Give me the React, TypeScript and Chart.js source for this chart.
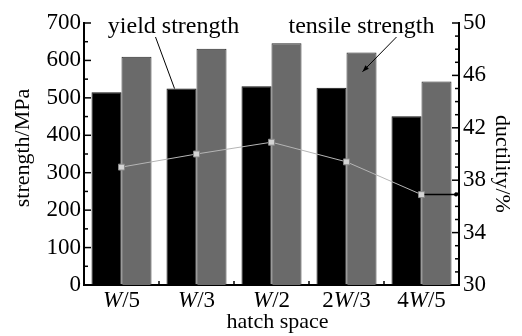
import React, { useEffect, useRef } from "react";
import { Chart, registerables } from "chart.js";

Chart.register(...registerables);

const categories = ["W/5", "W/3", "W/2", "2W/3", "4W/5"];
const yieldStrength = [515, 525, 531, 527, 451];
const tensileStrength = [610, 631, 646, 621, 544];
const ductility = [39.0, 40.0, 40.9, 39.4, 36.9];
const leftTitle = "strength/MPa";
const rightTitle = "ductility/%";
const xTitle = "hatch space";
const yieldLabel = "yield strength";
const tensileLabel = "tensile strength";

const SERIF = "'Liberation Serif'";

const decorPlugin = {
  id: "decor",
  afterDatasetsDraw(chart: any) {
    const { ctx, chartArea } = chart;
    const { left, right, top, bottom } = chartArea;
    const x = chart.scales.x;
    const y = chart.scales.y;
    const y1 = chart.scales.y1;
    ctx.save();
    ctx.strokeStyle = "#000";
    ctx.fillStyle = "#000";
    ctx.lineWidth = 1.5;
    const line = (x1: number, yA: number, x2: number, yB: number) => {
      ctx.beginPath();
      ctx.moveTo(x1, yA);
      ctx.lineTo(x2, yB);
      ctx.stroke();
    };
    // left ticks (inward)
    for (let v = 0; v <= 700; v += 50) {
      const py = y.getPixelForValue(v);
      const len = v % 100 === 0 ? 7 : 4;
      line(left, py, left + len, py);
    }
    // right ticks (inward)
    for (let v = 30; v <= 50; v += 1) {
      const py = y1.getPixelForValue(v);
      const len = (v - 30) % 4 === 0 ? 7 : 4;
      line(right - len, py, right, py);
    }
    // bottom ticks at category boundaries
    for (let i = 1; i < categories.length; i++) {
      const px = (x.getPixelForValue(i - 1) + x.getPixelForValue(i)) / 2;
      line(px, bottom, px, bottom - 4);
    }

    // pointer from last ductility point to right axis
    const lastIdx = ductility.length - 1;
    const lpx = x.getPixelForValue(lastIdx);
    const lpy = y1.getPixelForValue(ductility[lastIdx]);
    ctx.lineWidth = 1.5;
    line(lpx + 3, lpy, right, lpy);
    ctx.beginPath();
    ctx.arc(right - 3, lpy, 2, 0, Math.PI * 2);
    ctx.fill();

    // x category labels with italic W
    const fs = 23;
    categories.forEach((lab, i) => {
      const cx = x.getPixelForValue(i);
      const idx = lab.indexOf("W");
      const parts = [
        { t: lab.slice(0, idx), f: `${fs}px ${SERIF}` },
        { t: "W", f: `italic ${fs}px ${SERIF}` },
        { t: lab.slice(idx + 1), f: `${fs}px ${SERIF}` },
      ];
      let w = 0;
      parts.forEach((p) => {
        ctx.font = p.f;
        w += ctx.measureText(p.t).width;
      });
      let cur = cx - w / 2;
      ctx.textBaseline = "alphabetic";
      ctx.textAlign = "left";
      parts.forEach((p) => {
        ctx.font = p.f;
        ctx.fillText(p.t, cur, bottom + 22);
        cur += ctx.measureText(p.t).width;
      });
    });

    // axis titles
    ctx.font = `22px ${SERIF}`;
    ctx.textAlign = "center";
    ctx.textBaseline = "middle";
    ctx.fillText(xTitle, (left + right) / 2 + 6, bottom + 37);

    ctx.save();
    ctx.translate(23, (top + bottom) / 2 - 6);
    ctx.rotate(-Math.PI / 2);
    ctx.fillText(leftTitle, 0, 0);
    ctx.restore();

    ctx.save();
    ctx.translate(502, (top + bottom) / 2 + 10);
    ctx.rotate(Math.PI / 2);
    ctx.fillText(rightTitle, 0, 0);
    ctx.restore();

    // annotations
    ctx.font = `24px ${SERIF}`;
    ctx.textAlign = "center";
    ctx.textBaseline = "alphabetic";
    const yx = x.getPixelForValue(0) + 52;
    ctx.fillText(yieldLabel, yx, top + 10);
    const tx = x.getPixelForValue(3) + 15;
    ctx.fillText(tensileLabel, tx, top + 10);

    ctx.lineWidth = 1;
    // yield pointer to W/3 black bar top
    const ex = x.getPixelForValue(1) - 22;
    const ey = y.getPixelForValue(yieldStrength[1]);
    line(x.getPixelForValue(0) + 34, top + 14, ex, ey);

    // tensile arrow into 2W/3 grey bar
    const ax2 = x.getPixelForValue(3) + 16;
    const ay2 = y.getPixelForValue(570);
    const ax1 = x.getPixelForValue(3) + 50;
    const ay1 = top + 14;
    line(ax1, ay1, ax2, ay2);
    const ang = Math.atan2(ay2 - ay1, ax2 - ax1);
    const hl = 7;
    ctx.beginPath();
    ctx.moveTo(ax2, ay2);
    ctx.lineTo(ax2 - hl * Math.cos(ang - 0.35), ay2 - hl * Math.sin(ang - 0.35));
    ctx.lineTo(ax2 - hl * Math.cos(ang + 0.35), ay2 - hl * Math.sin(ang + 0.35));
    ctx.closePath();
    ctx.fill();

    ctx.restore();
  },
};

export default function App() {
  const ref = useRef<HTMLCanvasElement | null>(null);
  useEffect(() => {
    if (!ref.current) return;
    const chart = new Chart(ref.current, {
      type: "bar",
      data: {
        labels: categories,
        datasets: [
          {
            type: "line",
            label: "ductility",
            data: ductility,
            yAxisID: "y1",
            borderColor: "#b5b5b5",
            borderWidth: 1,
            pointStyle: "rect",
            pointRadius: 4.2,
            pointBackgroundColor: "#d4d4d4",
            pointBorderColor: "#8a8a8a",
            pointBorderWidth: 1,
            order: 0,
          } as any,
          {
            label: yieldLabel,
            data: yieldStrength,
            yAxisID: "y",
            backgroundColor: "#000",
            borderColor: "#111",
            borderWidth: 1,
            barPercentage: 1,
            categoryPercentage: 0.8,
            order: 1,
          },
          {
            label: tensileLabel,
            data: tensileStrength,
            yAxisID: "y",
            backgroundColor: "#6a6a6a",
            borderColor: "#2a2a2a",
            borderWidth: 1,
            barPercentage: 1,
            categoryPercentage: 0.8,
            order: 1,
          },
        ],
      },
      options: {
        responsive: true,
        maintainAspectRatio: false,
        animation: false,
        layout: { padding: { top: 23, left: 0, right: 0, bottom: 0 } },
        plugins: { legend: { display: false }, tooltip: { enabled: false } },
        scales: {
          x: {
            type: "category",
            offset: true,
            grid: { display: false, drawTicks: false },
            border: { display: true, color: "#000", width: 2 },
            ticks: { display: false },
            afterFit(s: any) {
              s.height = 51;
              s.paddingLeft = 0;
              s.paddingRight = 0;
            },
          },
          y: {
            position: "left",
            min: 0,
            max: 700,
            grid: { display: false, drawTicks: false },
            border: { display: true, color: "#000", width: 2 },
            ticks: {
              stepSize: 100,
              padding: 3,
              color: "#000",
              font: { family: SERIF, size: 23 },
            },
            afterFit(s: any) {
              s.width = 84;
              s.paddingTop = 0;
              s.paddingBottom = 0;
            },
          },
          y1: {
            position: "right",
            min: 30,
            max: 50,
            grid: { display: false, drawTicks: false },
            border: { display: true, color: "#000", width: 2 },
            ticks: {
              stepSize: 4,
              padding: 4,
              color: "#000",
              font: { family: SERIF, size: 23 },
            },
            afterFit(s: any) {
              s.width = 63;
              s.paddingTop = 0;
              s.paddingBottom = 0;
            },
          },
        },
      },
      plugins: [decorPlugin],
    });
    return () => chart.destroy();
  }, []);
  return (
    <div style={{ position: "absolute", left: 0, top: 0, width: 522, height: 336, background: "#fff" }}>
      <canvas ref={ref} />
    </div>
  );
}
